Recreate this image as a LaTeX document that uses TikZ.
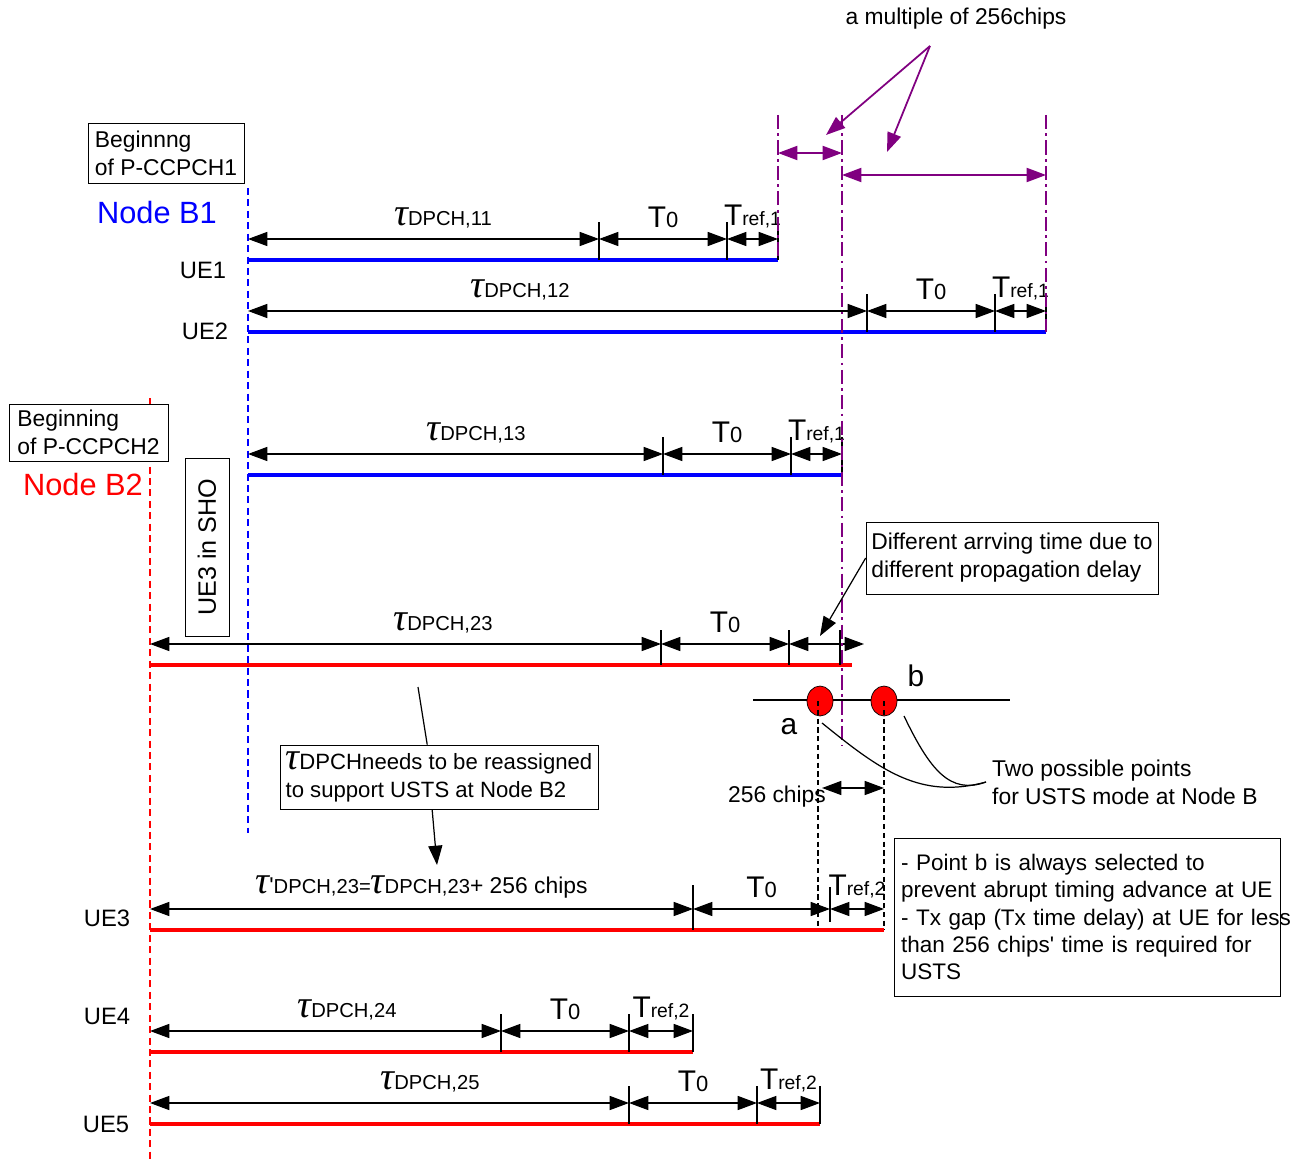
\documentclass[tikz,border=0pt]{standalone}
\usepackage{fontspec}
\setmainfont{Liberation Sans}
\newfontfamily\taufont{Liberation Serif}
\usetikzlibrary{arrows.meta,shapes.geometric}

\definecolor{nodebblue}{RGB}{0,0,255}
\definecolor{nodebred}{RGB}{255,0,0}
\definecolor{chipviolet}{RGB}{128,0,128}

\newcommand{\fsz}[1]{\fontsize{#1}{#1}\selectfont}
\newcommand{\tauSym}{{\taufont\itshape\fsz{22}τ}}
\newcommand{\tauD}[1]{\tauSym{\fsz{11.5}DPCH,#1}}
\newcommand{\Tnull}{{\fsz{17}T}{\fsz{12.5}0}}
\newcommand{\Trf}[1]{{\fsz{17}T}{\fsz{11}ref,#1}}

\tikzset{
  chan/.style={line width=1.8pt, draw=#1},
  tickline/.style={line width=0.6pt},
  dim/.style={line width=0.7pt, <->},
  lab/.style={above=5pt, inner sep=1pt},
  nodeline/.style={line width=1.2pt, dash pattern=on 4pt off 2.5pt, draw=#1},
  chipline/.style={line width=1pt, draw=chipviolet, dash pattern=on 8pt off 2.5pt on 1.5pt off 2.5pt},
  note/.style={draw, fill=white, align=left, inner sep=3pt, font=\fontsize{13}{16}\selectfont},
  uelab/.style={font=\fsz{13.5}},
  dot/.style={ellipse, draw, fill=nodebred, minimum width=0.52cm, minimum height=0.6cm, inner sep=0pt}
}

\begin{document}
\begin{tikzpicture}[x=0.02cm, y=-0.02cm, >={Triangle[length=11pt,width=8pt]}]
  \useasboundingbox (0,0) rectangle (1298,1159);

  % Node B reference lines
  \draw[nodeline=nodebblue] (248,188) -- (248,833);
  \draw[nodeline=nodebred] (150,398) -- (150,1159);

  \node[note, minimum width=3.12cm, minimum height=1.2cm] (pccpch1) at (166,153) {Beginnng\\of P-CCPCH1};
  \node[note, minimum width=3.18cm, minimum height=1.14cm] (pccpch2) at (88.5,432.5) {Beginning\\of P-CCPCH2};
  \node[font=\fsz{17.5}, text=nodebblue] (nodeb1) at (157,213) {Node B1};
  \node[font=\fsz{17.5}, text=nodebred] (nodeb2) at (83,485) {Node B2};
  \node[note, rotate=90, font=\fsz{14.3}, minimum width=3.56cm, minimum height=0.88cm] (sho) at (207,547) {UE3 in SHO};

  \node[uelab] (ue1) at (203,270) {UE1};
  \node[uelab] (ue2) at (205,331) {UE2};
  \node[uelab] (ue3) at (107,918) {UE3};
  \node[uelab] (ue4) at (107,1016) {UE4};
  \node[uelab] (ue5) at (106,1124) {UE5};

  % channels with tau / T0 / Tref
  \foreach \n/\xs/\xa/\xb/\xe/\y/\col/\r/\lx in {11/248/599/727/778/260/nodebblue/1/443,
      12/248/867/995/1046/332/nodebblue/1/520, 13/248/663/791/842/475/nodebblue/1/476,
      24/150/501/629/693/1052/nodebred/2/347, 25/150/629/757/820/1124/nodebred/2/430}{
    \draw[chan=\col] (\xs,\y) -- (\xe,\y);
    \foreach \t in {\xa,\xb,\xe} \draw[tickline] (\t,\y-38) -- (\t,\y);
    \draw[dim] (\xs,\y-21) -- (\xa,\y-21);
    \node[lab] (tau\n) at (\lx,\y-21) {\tauD{\n}};
    \draw[dim] (\xa,\y-21) -- node[lab] (tnull\n) {\Tnull} (\xb,\y-21);
    \draw[dim] (\xb,\y-21) -- node[lab] (tref\n) {\Trf{\r}} (\xe,\y-21);
  }

  % UE3 seen from Node B2
  \draw[chan=nodebred] (150,665) -- (852,665);
  \foreach \t in {661,789,840} \draw[tickline] (\t,630) -- (\t,665);
  \draw[dim] (150,644) -- (661,644);
  \node[lab] (tau23) at (443,644) {\tauD{23}};
  \draw[dim] (661,644) -- node[lab] (tnull23) {\Tnull} (789,644);
  \draw[dim] (789,644) -- (864,644);

  % chip-multiple marks
  \draw[chipline] (778,115) -- (778,260);
  \draw[chipline] (842,115) -- (842,745);
  \draw[chipline] (1046,115) -- (1046,332);
  \draw[chipviolet, line width=1pt, <->] (778,153) -- (842,153);
  \draw[chipviolet, line width=1pt, <->] (842,175) -- (1046,175);
  \node[font=\fsz{13}] (multi) at (956,19) {a multiple of 256chips};
  \coordinate (fork) at (930,46);
  \coordinate (tipL) at (826,135);
  \coordinate (tipR) at (887,152);
  \draw[chipviolet, line width=1pt, ->] (fork) -- (tipL);
  \draw[chipviolet, line width=1pt, ->] (fork) -- (tipR);

  % propagation delay note
  \node[note, minimum width=5.76cm, minimum height=1.44cm] (diff) at (1012,558) {Different arrving time due to\\different propagation delay};
  \coordinate (gap) at (820,636);
  \draw[line width=0.7pt, ->] (diff.west) -- (gap);

  % possible points a and b
  \draw[line width=0.7pt] (753,700) -- (1010,700);
  \node[dot] (pa) at (820,701) {};
  \node[dot] (pb) at (884,701) {};
  \node[font=\fsz{17}] (alab) at (789,727) {a};
  \node[font=\fsz{17}] (blab) at (916,676) {b};
  \draw[line width=0.6pt, dash pattern=on 3pt off 2pt] (818,701) -- (818,930);
  \draw[line width=0.6pt, dash pattern=on 3pt off 2pt] (884,701) -- (884,930);
  \draw[dim] (822,788) -- (884,788);
  \node[font=\fsz{13}] (chips) at (777,797) {256 chips};
  \node[anchor=west, align=left, font=\fontsize{13}{16}\selectfont] (twopts) at (986,782) {Two possible points\\for USTS mode at Node B};
  \draw[line width=0.7pt] (822,723) .. controls (880,770) and (920,800) .. (twopts.west);
  \draw[line width=0.7pt] (904,716) .. controls (930,770) and (950,795) .. (twopts.west);

  % reassignment note
  \coordinate (reas) at (418,687);
  \node[note, font=\fontsize{12.6}{16}\selectfont, minimum width=6.36cm, minimum height=1.28cm] (needbox) at (439,777) {\tauSym{}DPCHneeds to be reassigned\\to support USTS at Node B2};
  \coordinate (newtau) at (437,865);
  \draw[line width=0.7pt] (reas) -- (needbox.110);
  \draw[line width=0.7pt, ->] (needbox.258) -- (newtau);

  % UE3 after reassignment
  \draw[chan=nodebred] (150,930) -- (884,930);
  \draw[tickline] (693,885) -- (693,930);
  \draw[tickline] (830,887) -- (830,922);
  \draw[dim] (150,909) -- node[lab] (tauprime) {\tauSym{\fsz{13}\textquotesingle}{\fsz{11.5}DPCH,23=}\tauSym{\fsz{11.5}DPCH,23}{\fsz{13}+ 256 chips}} (693,909);
  \draw[dim] (693,909) -- node[lab] (tnull3) {\Tnull} (830,909);
  \draw[dim] (830,909) -- node[lab] (tref3) {\Trf{2}} (884,909);

  \node[note, font=\fontsize{12.8}{15.5}\selectfont, text width=7.44cm, inner xsep=4pt, minimum height=3.16cm] (usts) at (1087,917) {\mbox{- Point b is always selected to}\\\mbox{prevent abrupt timing advance at UE}\\\mbox{- Tx gap (Tx time delay) at UE for less}\\\mbox{than 256 chips\textquotesingle{} time is required for}\\USTS};
\end{tikzpicture}
\end{document}
